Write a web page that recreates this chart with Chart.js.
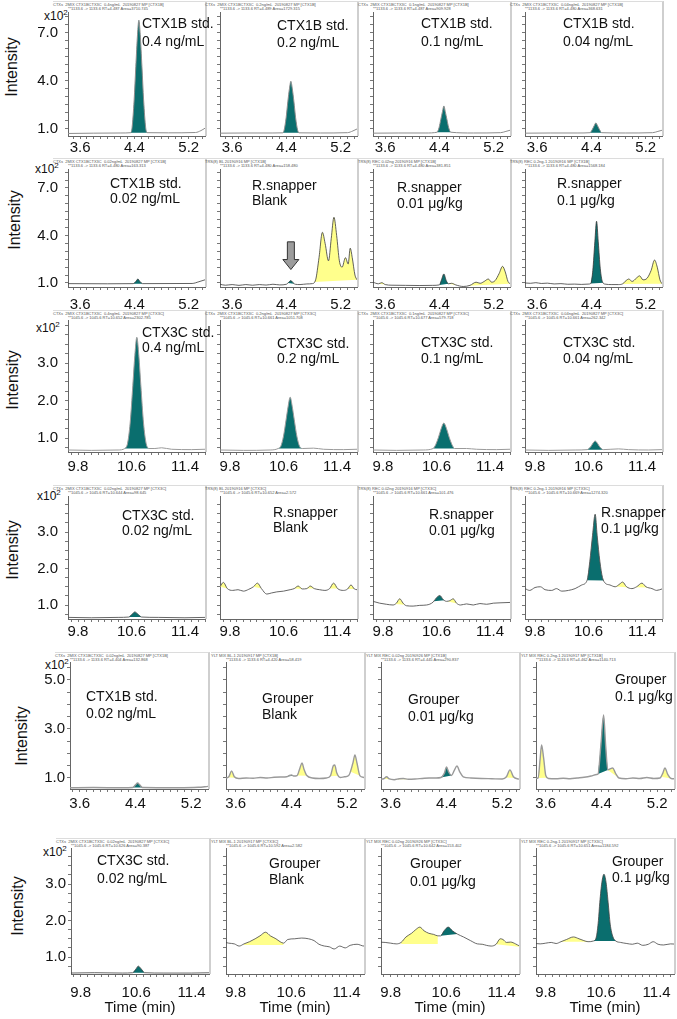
<!DOCTYPE html>
<html>
<head>
<meta charset="utf-8">
<script src="https://cdn.jsdelivr.net/npm/chart.js@4.4.0/dist/chart.umd.min.js"></script>
<style>
  body { margin: 0; background: #fff; }
  #fig { position: relative; width: 677px; height: 1019px; overflow: hidden;
         font-family: "Liberation Sans", Arial, sans-serif; color: #111; }
  .frame { position: absolute; border-top: 1px solid #dcdcdc; border-right: 2px solid #cfcfcf;
           box-sizing: border-box; z-index: 0; }
  .hdr { position: absolute; font-size: 4px; line-height: 5px; color: #555; white-space: pre; z-index: 2; }
  .lab { position: absolute; font-size: 14px; line-height: 16px; white-space: nowrap;
         transform: translateY(-50%); z-index: 4; }
  .ylab { position: absolute; font-size: 16px; white-space: nowrap;
          transform: translate(-50%, -50%) rotate(-90deg); z-index: 2; }
  .mult { position: absolute; font-size: 12px; transform: translateY(-50%); z-index: 2; }
  .mult sup { font-size: 8px; }
  canvas { position: absolute; z-index: 3; }
</style>
</head>
<body>
<div id="fig"></div>
<script>
// ---- tick labels ----
const ctx1bTicks = [3.6, 4.4, 5.2];
const ctx3cTicks = [9.8, 10.6, 11.4];
const yTicks147 = [1.0, 4.0, 7.0];
const yTicks123 = [1.0, 2.0, 3.0];
const yTicks135 = [1.0, 3.0, 5.0];

// ---- traces: [time (min), intensity (x10^2)] ----
// row 1: CTX1B standards
const r1p1 = [[3.42,0.72],[3.8,0.74],[4.2,0.75],[4.345,0.77],[4.365,1.1],[4.395,2.8],[4.42,4.9],[4.445,6.9],[4.465,7.8],[4.485,6.9],[4.51,4.9],[4.535,2.8],[4.565,1.1],[4.585,0.77],[4.9,0.76],[5.3,0.78],[5.38,0.9],[5.44,1.05]];
const r1p2 = [[3.42,0.74],[3.8,0.75],[4.2,0.75],[4.345,0.76],[4.365,0.92],[4.395,1.7],[4.42,2.7],[4.445,3.55],[4.465,3.98],[4.485,3.55],[4.51,2.7],[4.535,1.7],[4.565,0.92],[4.585,0.76],[4.9,0.75],[5.3,0.77],[5.38,0.88],[5.44,1.0]];
const r1p3 = [[3.42,0.74],[3.8,0.75],[4.2,0.75],[4.365,0.8],[4.395,1.1],[4.42,1.6],[4.445,2.1],[4.465,2.44],[4.485,2.1],[4.51,1.6],[4.535,1.1],[4.565,0.8],[4.9,0.75],[5.3,0.77],[5.38,0.85],[5.44,0.92]];
const r1p4 = [[3.42,0.74],[3.8,0.75],[4.2,0.75],[4.38,0.77],[4.41,0.95],[4.44,1.2],[4.465,1.38],[4.49,1.2],[4.52,0.95],[4.55,0.77],[4.9,0.75],[5.3,0.77],[5.38,0.85],[5.44,0.92]];
// row 2: CTX1B, red snapper
const r2p1 = [[3.42,0.96],[4.0,0.95],[4.38,0.96],[4.42,1.1],[4.45,1.25],[4.48,1.1],[4.52,0.96],[5.25,0.97],[5.35,1.08],[5.44,1.2]];
const r2p2 = [[3.42,0.92],[3.5,0.86],[3.6,0.9],[3.7,0.85],[3.8,0.9],[3.9,0.86],[4.0,0.9],[4.1,0.87],[4.2,0.92],[4.3,0.88],[4.4,0.92],[4.44,1.08],[4.465,1.15],[4.49,1.05],[4.53,0.92],[4.6,0.9],[4.7,0.94],[4.78,0.96],[4.83,1.2],[4.88,2.6],[4.93,4.2],[4.97,3.5],[5.02,2.4],[5.06,3.8],[5.1,5.15],[5.14,4.0],[5.18,2.4],[5.22,2.0],[5.27,2.6],[5.31,2.2],[5.34,3.2],[5.37,2.6],[5.41,1.5],[5.44,1.2]];
const r2p3 = [[3.42,1.05],[3.5,0.95],[3.55,1.02],[3.6,0.9],[3.7,0.86],[3.9,0.85],[4.1,0.84],[4.3,0.85],[4.40,0.88],[4.43,1.2],[4.465,1.57],[4.50,1.15],[4.53,0.95],[4.58,0.98],[4.64,0.88],[4.75,0.78],[4.85,0.85],[4.94,1.05],[5.0,0.98],[5.06,1.1],[5.12,1.25],[5.17,1.05],[5.22,1.15],[5.28,1.6],[5.33,2.05],[5.37,1.7],[5.41,1.1],[5.44,0.95]];
const r2p4 = [[3.42,1.0],[3.5,0.98],[3.58,1.02],[3.66,0.97],[3.75,0.99],[3.85,0.94],[3.95,0.96],[4.05,0.92],[4.15,0.93],[4.25,0.91],[4.35,0.93],[4.39,0.97],[4.42,1.8],[4.45,3.6],[4.475,4.9],[4.50,3.6],[4.53,1.9],[4.56,1.1],[4.60,0.93],[4.7,0.9],[4.8,0.9],[4.86,0.95],[4.91,1.15],[4.95,1.25],[5.0,1.1],[5.06,1.3],[5.11,1.45],[5.16,1.2],[5.22,1.3],[5.28,1.8],[5.33,2.45],[5.37,2.0],[5.41,1.2],[5.44,0.95]];
// row 3: CTX3C standards
const r3p1 = [[9.65,0.68],[10.0,0.67],[10.40,0.68],[10.50,0.72],[10.54,0.85],[10.58,1.4],[10.62,2.4],[10.65,3.2],[10.68,3.69],[10.71,3.2],[10.74,2.4],[10.78,1.4],[10.82,0.85],[10.86,0.72],[10.95,0.72],[11.05,0.74],[11.2,0.7],[11.5,0.69],[11.70,0.7]];
const r3p2 = [[9.65,0.68],[10.0,0.67],[10.40,0.68],[10.52,0.72],[10.56,0.78],[10.60,1.05],[10.64,1.5],[10.67,1.85],[10.70,2.09],[10.73,1.85],[10.76,1.5],[10.80,1.05],[10.84,0.78],[10.88,0.72],[11.05,0.73],[11.2,0.7],[11.5,0.69],[11.70,0.7]];
const r3p3 = [[9.65,0.68],[10.0,0.67],[10.40,0.68],[10.55,0.72],[10.59,0.83],[10.63,1.02],[10.67,1.25],[10.71,1.40],[10.75,1.25],[10.79,1.02],[10.83,0.83],[10.87,0.72],[11.05,0.72],[11.2,0.7],[11.5,0.69],[11.70,0.7]];
const r3p4 = [[9.65,0.68],[10.0,0.67],[10.40,0.68],[10.58,0.69],[10.63,0.76],[10.67,0.87],[10.70,0.92],[10.73,0.87],[10.77,0.76],[10.82,0.69],[11.05,0.71],[11.2,0.69],[11.5,0.68],[11.70,0.69]];
// row 4: CTX3C, red snapper
const r4p1 = [[9.65,0.66],[10.0,0.65],[10.4,0.66],[10.56,0.67],[10.61,0.75],[10.65,0.81],[10.69,0.76],[10.75,0.67],[11.0,0.66],[11.4,0.65],[11.70,0.66]];
const r4p2 = [[9.65,1.5],[9.70,1.62],[9.76,1.45],[9.84,1.4],[9.92,1.42],[10.0,1.38],[10.08,1.43],[10.15,1.5],[10.21,1.6],[10.27,1.45],[10.35,1.3],[10.42,1.33],[10.5,1.36],[10.6,1.38],[10.7,1.42],[10.76,1.45],[10.82,1.52],[10.88,1.44],[10.95,1.45],[11.0,1.52],[11.06,1.45],[11.14,1.42],[11.22,1.4],[11.29,1.45],[11.35,1.6],[11.41,1.45],[11.5,1.4],[11.56,1.44],[11.61,1.55],[11.66,1.44],[11.70,1.42]];
const r4p3 = [[9.65,1.1],[9.75,1.05],[9.85,1.02],[9.95,1.0],[10.0,1.05],[10.05,1.17],[10.10,1.05],[10.15,0.98],[10.25,0.97],[10.35,0.99],[10.45,1.0],[10.55,1.08],[10.60,1.2],[10.65,1.26],[10.70,1.15],[10.75,1.1],[10.80,1.12],[10.85,1.17],[10.90,1.05],[10.96,1.0],[11.05,1.03],[11.15,1.0],[11.25,1.04],[11.35,1.02],[11.45,1.05],[11.55,1.06],[11.70,1.07]];
const r4p4 = [[9.65,1.45],[9.72,1.4],[9.8,1.48],[9.88,1.5],[9.95,1.42],[10.05,1.4],[10.12,1.45],[10.2,1.38],[10.3,1.4],[10.4,1.45],[10.5,1.55],[10.58,1.68],[10.62,2.2],[10.66,2.9],[10.70,3.49],[10.73,2.9],[10.77,2.2],[10.81,1.75],[10.85,1.6],[10.92,1.55],[11.0,1.5],[11.07,1.58],[11.11,1.63],[11.17,1.5],[11.25,1.45],[11.32,1.5],[11.40,1.6],[11.46,1.5],[11.55,1.45],[11.62,1.4],[11.70,1.44]];
// row 5: CTX1B, grouper
const r5p1 = [[3.44,0.6],[3.8,0.61],[4.2,0.6],[4.36,0.61],[4.40,0.72],[4.43,0.8],[4.46,0.72],[4.50,0.61],[5.0,0.6],[5.3,0.62],[5.44,0.66]];
const r5p2 = [[3.44,0.98],[3.50,1.05],[3.54,1.29],[3.58,1.05],[3.64,0.98],[3.75,1.0],[3.85,0.99],[3.95,1.02],[4.05,1.0],[4.15,1.03],[4.25,1.04],[4.33,1.05],[4.37,1.1],[4.40,1.12],[4.43,1.08],[4.48,1.1],[4.52,1.4],[4.55,1.61],[4.58,1.35],[4.62,1.1],[4.7,1.0],[4.8,0.98],[4.9,1.0],[4.96,1.1],[5.00,1.5],[5.02,1.53],[5.05,1.2],[5.1,1.02],[5.16,1.05],[5.22,1.1],[5.28,1.6],[5.31,1.94],[5.34,1.6],[5.38,1.1],[5.44,1.02]];
const r5p3 = [[3.44,0.95],[3.5,0.97],[3.54,1.05],[3.58,0.96],[3.65,0.93],[3.72,0.97],[3.78,0.98],[3.85,0.95],[3.95,0.96],[4.05,0.98],[4.15,1.0],[4.25,1.0],[4.32,1.02],[4.37,1.2],[4.40,1.45],[4.43,1.25],[4.47,1.1],[4.51,1.3],[4.55,1.49],[4.59,1.25],[4.64,1.05],[4.75,1.0],[4.9,0.98],[5.05,0.97],[5.2,0.96],[5.26,1.05],[5.31,1.33],[5.36,1.05],[5.44,0.95]];
const r5p4 = [[3.44,0.98],[3.49,1.0],[3.52,1.8],[3.54,2.35],[3.57,1.8],[3.60,1.1],[3.64,0.98],[3.75,0.97],[3.85,0.99],[3.95,0.97],[4.05,1.0],[4.15,1.03],[4.25,1.08],[4.33,1.14],[4.35,1.16],[4.39,2.3],[4.43,3.57],[4.46,2.3],[4.49,1.33],[4.53,1.38],[4.56,1.41],[4.60,1.2],[4.65,1.0],[4.75,0.97],[4.85,1.0],[4.95,0.98],[5.05,1.02],[5.15,0.98],[5.24,1.0],[5.28,1.2],[5.31,1.41],[5.35,1.15],[5.40,0.98],[5.44,0.97]];
// row 6: CTX3C, grouper
const r6p1 = [[9.63,0.56],[10.0,0.57],[10.4,0.56],[10.55,0.57],[10.6,0.68],[10.63,0.75],[10.67,0.68],[10.72,0.57],[11.0,0.56],[11.4,0.56],[11.71,0.57]];
const r6p2 = [[9.63,1.41],[9.7,1.38],[9.78,1.36],[9.85,1.3],[9.92,1.36],[10.0,1.42],[10.08,1.5],[10.15,1.58],[10.23,1.68],[10.3,1.58],[10.38,1.5],[10.44,1.42],[10.49,1.38],[10.55,1.48],[10.65,1.5],[10.75,1.52],[10.85,1.5],[10.93,1.45],[11.0,1.35],[11.08,1.3],[11.15,1.28],[11.22,1.22],[11.3,1.3],[11.38,1.25],[11.45,1.32],[11.55,1.35],[11.65,1.3],[11.71,1.33]];
const r6p3 = [[9.63,1.41],[9.72,1.4],[9.8,1.38],[9.88,1.36],[9.95,1.4],[10.02,1.55],[10.10,1.65],[10.16,1.75],[10.22,1.82],[10.28,1.72],[10.35,1.65],[10.42,1.62],[10.48,1.58],[10.52,1.58],[10.57,1.72],[10.63,1.82],[10.69,1.72],[10.76,1.63],[10.85,1.55],[10.95,1.45],[11.05,1.36],[11.12,1.35],[11.18,1.32],[11.25,1.3],[11.32,1.35],[11.38,1.5],[11.42,1.48],[11.47,1.4],[11.53,1.41],[11.6,1.36],[11.66,1.3],[11.71,1.27]];
const r6p4 = [[9.63,1.38],[9.72,1.36],[9.8,1.38],[9.88,1.4],[9.95,1.37],[10.02,1.42],[10.1,1.48],[10.2,1.55],[10.28,1.5],[10.35,1.45],[10.41,1.42],[10.49,1.44],[10.53,1.55],[10.56,2.0],[10.58,2.5],[10.61,3.05],[10.64,3.27],[10.67,3.05],[10.70,2.5],[10.73,1.9],[10.77,1.55],[10.81,1.44],[10.88,1.4],[10.97,1.37],[11.05,1.35],[11.12,1.38],[11.2,1.32],[11.28,1.35],[11.35,1.42],[11.42,1.35],[11.5,1.33],[11.6,1.36],[11.71,1.35]];

// ---- integrated peaks: [start, end, kind (T = target, O = other), optional flat base] ----
const r1Peaks = [[[4.345,4.585,'T']], [[4.345,4.585,'T']], [[4.365,4.565,'T']], [[4.38,4.55,'T']]];
const r2Peaks = [[[4.38,4.52,'T']], [[4.42,4.52,'T'],[4.80,5.44,'O']], [[3.5,3.6,'O'],[4.40,4.53,'T'],[4.53,4.64,'O'],[4.82,5.44,'O']], [[4.39,4.58,'T'],[4.85,5.44,'O']]];
const r3Peaks = [[[10.50,10.86,'T']], [[10.52,10.88,'T']], [[10.55,10.87,'T']], [[10.58,10.82,'T']]];
const r4Peaks = [[[10.56,10.75,'T']], [[9.65,9.76,'O'],[10.15,10.27,'O'],[10.76,10.88,'O'],[10.95,11.06,'O'],[11.29,11.41,'O'],[11.56,11.66,'O']], [[9.98,10.13,'O'],[10.56,10.72,'T'],[10.76,10.92,'O']], [[10.58,10.83,'T'],[10.98,11.2,'O'],[11.3,11.5,'O']]];
const r5Peaks = [[[4.36,4.50,'T']], [[3.48,3.62,'O'],[4.35,4.45,'T'],[4.48,4.63,'O'],[4.94,5.08,'O'],[5.24,5.40,'O']], [[3.50,3.60,'O'],[3.68,3.85,'O'],[4.32,4.47,'T'],[5.24,5.40,'O']], [[3.49,3.63,'O'],[4.35,4.49,'T'],[4.49,4.65,'O'],[5.25,5.40,'O']]];
const r6Peaks = [[[10.55,10.72,'T']], [[9.92,10.49,'O',1.33]], [[9.95,10.48,'O',1.36],[10.52,10.76,'T'],[11.05,11.15,'O'],[11.32,11.71,'O']], [[10.02,10.41,'O'],[10.49,10.81,'T']]];

// arrow in the red snapper blank panel: [time, tail intensity, tip intensity]
const blankArrow = [4.465, 3.6, 1.85];

// ---- texts ----
const r1Names = [['CTX1B std.','0.4 ng/mL'],['CTX1B std.','0.2 ng/mL'],['CTX1B std.','0.1 ng/mL'],['CTX1B std.','0.04 ng/mL']];
const r2Names = [['CTX1B std.','0.02 ng/mL'],['R.snapper','Blank'],['R.snapper','0.01 μg/kg'],['R.snapper','0.1 μg/kg']];
const r3Names = [['CTX3C std.','0.4 ng/mL'],['CTX3C std.','0.2 ng/mL'],['CTX3C std.','0.1 ng/mL'],['CTX3C std.','0.04 ng/mL']];
const r4Names = [['CTX3C std.','0.02 ng/mL'],['R.snapper','Blank'],['R.snapper','0.01 μg/kg'],['R.snapper','0.1 μg/kg']];
const r5Names = [['CTX1B std.','0.02 ng/mL'],['Grouper','Blank'],['Grouper','0.01 μg/kg'],['Grouper','0.1 μg/kg']];
const r6Names = [['CTX3C std.','0.02 ng/mL'],['Grouper','Blank'],['Grouper','0.01 μg/kg'],['Grouper','0.1 μg/kg']];

const r1Hdr = [['CTXs  2MIX CTX1BCTX3C  0.4ng/mL  20190827 MP [CTX1B]','**1133.6 -> 1133.6 RT=4.487 Area=3710.745'],['CTXs  2MIX CTX1BCTX3C  0.2ng/mL  20190827 MP [CTX1B]','**1133.6 -> 1133.6 RT=4.489 Area=1729.315'],['CTXs  2MIX CTX1BCTX3C  0.1ng/mL  20190827 MP [CTX1B]','**1133.6 -> 1133.6 RT=4.487 Area=909.928'],['CTXs  2MIX CTX1BCTX3C  0.04ng/mL  20190827 MP [CTX1B]','**1133.6 -> 1133.6 RT=4.480 Area=368.631']];
const r2Hdr = [['CTXs  2MIX CTX1BCTX3C  0.02ng/mL  20190827 MP [CTX1B]','**1133.6 -> 1133.6 RT=4.480 Area=163.313'],['TRS(8) BL 20190916 MP [CTX1B]','**1133.6 -> 1133.6 RT=4.480 Area=158.480'],['TRS(8) REC 0.02ng 20190916 MP [CTX1B]','**1133.6 -> 1133.6 RT=4.480 Area=381.851'],['TRS(8) REC 0.2ng-1 20190916 MP [CTX1B]','**1133.6 -> 1133.6 RT=4.480 Area=1568.184']];
const r3Hdr = [['CTXs  2MIX CTX1BCTX3C  0.4ng/mL  20190827 MP [CTX3C]','**1045.6 -> 1045.6 RT=10.652 Area=2302.785'],['CTXs  2MIX CTX1BCTX3C  0.2ng/mL  20190827 MP [CTX3C]','**1045.6 -> 1045.6 RT=10.661 Area=1051.708'],['CTXs  2MIX CTX1BCTX3C  0.1ng/mL  20190827 MP [CTX3C]','**1045.6 -> 1045.6 RT=10.677 Area=579.718'],['CTXs  2MIX CTX1BCTX3C  0.04ng/mL  20190827 MP [CTX3C]','**1045.6 -> 1045.6 RT=10.661 Area=262.342']];
const r4Hdr = [['CTXs  2MIX CTX1BCTX3C  0.02ng/mL  20190827 MP [CTX3C]','**1045.6 -> 1045.6 RT=10.644 Area=98.645'],['TRS(8) BL 20190916 MP [CTX3C]','**1045.6 -> 1045.6 RT=10.652 Area=2.572'],['TRS(8) REC 0.02ng 20190916 MP [CTX3C]','**1045.6 -> 1045.6 RT=10.661 Area=101.476'],['TRS(8) REC 0.2ng-1 20190916 MP [CTX3C]','**1045.6 -> 1045.6 RT=10.669 Area=1274.320']];
const r5Hdr = [['CTXs  2MIX CTX1BCTX3C  0.02ng/mL  20190827 MP [CTX1B]','**1133.6 -> 1133.6 RT=4.404 Area=132.868'],['YLT MIX BL-1 20190917 MP [CTX1B]','**1133.6 -> 1133.6 RT=4.420 Area=58.419'],['YLT MIX REC 0.02ng 20190926 MP [CTX1B]','**1133.6 -> 1133.6 RT=4.445 Area=290.837'],['YLT MIX REC 0.2ng-1 20190917 MP [CTX1B]','**1133.6 -> 1133.6 RT=4.462 Area=1140.713']];
const r6Hdr = [['CTXs  2MIX CTX1BCTX3C  0.02ng/mL  20190827 MP [CTX3C]','**1045.6 -> 1045.6 RT=10.626 Area=90.387'],['YLT MIX BL-1 20190917 MP [CTX3C]','**1045.6 -> 1045.6 RT=10.592 Area=2.582'],['YLT MIX REC 0.02ng 20190926 MP [CTX3C]','**1045.6 -> 1045.6 RT=10.642 Area=153.402'],['YLT MIX REC 0.2ng-1 20190917 MP [CTX3C]','**1045.6 -> 1045.6 RT=10.651 Area=1184.592']];

// ---- layout (page pixels) ----
const TEAL = '#0a6e6e';
const YELLOW = '#ffff8c';
const FONT = 'Liberation Sans';

const rows = [
  { traces: [r1p1,r1p2,r1p3,r1p4], peaks: r1Peaks, names: r1Names, hdr: r1Hdr, xTicks: ctx1bTicks, yTicks: yTicks147,
    xr: [3.42, 5.44], yr: [0.5625, 8.31], yStep: 0.5, plotTop: 12, axisY: 136, hdrY: 4, lefts: [68,220,373,525], w: 137,
    xPad: 0, yPad: 7, line: '#8c8c8c', lw: 1, ylab: [12, 67], mult: [44, 15],
    labs: [[142,23,41],[277,25,42],[421,23,41],[563,23,41]] },
  { traces: [r2p1,r2p2,r2p3,r2p4], peaks: r2Peaks, names: r2Names, hdr: r2Hdr, xTicks: ctx1bTicks, yTicks: yTicks147,
    xr: [3.42, 5.44], yr: [0.747, 8.2], yStep: 0.5, plotTop: 169, axisY: 287, hdrY: 161, lefts: [68,220,373,525], w: 137,
    xPad: 6, yPad: 7, line: '#3a3a3a', lw: 0.8, ylab: [15, 220], mult: [35, 168],
    labs: [[110,183,198],[252,185,200],[397,187,203],[557,183,200]], arrow: 1 },
  { traces: [r3p1,r3p2,r3p3,r3p4], peaks: r3Peaks, names: r3Names, hdr: r3Hdr, xTicks: ctx3cTicks, yTicks: yTicks123,
    xr: [9.65, 11.70], yr: [0.627, 4.15], yStep: 0.25, plotTop: 320, axisY: 452, hdrY: 313, lefts: [68,220,373,525], w: 137,
    xPad: 3, yPad: 7, line: '#9a9a9a', lw: 1, ylab: [13, 380], mult: [36, 327],
    labs: [[142,332,347],[277,343,358],[421,342,358],[563,342,358]] },
  { traces: [r4p1,r4p2,r4p3,r4p4], peaks: r4Peaks, names: r4Names, hdr: r4Hdr, xTicks: ctx3cTicks, yTicks: yTicks123,
    xr: [9.65, 11.70], yr: [0.616, 3.99], yStep: 0.25, plotTop: 496, axisY: 619, hdrY: 488, lefts: [68,220,373,525], w: 137,
    xPad: 1, yPad: 7, line: '#555', lw: 0.9, ylab: [13, 550], mult: [37, 495],
    labs: [[122,515,530],[273,512,527],[429,514,530],[601,512,528]] },
  { traces: [r5p1,r5p2,r5p3,r5p4], peaks: r5Peaks, names: r5Names, hdr: r5Hdr, xTicks: ctx1bTicks, yTicks: yTicks135,
    xr: [3.46, 5.44], yr: [0.551, 5.73], yStep: 0.5, plotTop: 662, axisY: 789, hdrY: 655, lefts: [70,226,381,536], w: 138,
    xPad: 3, yPad: 2, line: '#9a9a9a', lw: 1.4, ylab: [22, 736], mult: [45, 664],
    labs: [[86,696,713],[262,698,714],[408,699,716],[615,679,696]] },
  { traces: [r6p1,r6p2,r6p3,r6p4], peaks: r6Peaks, names: r6Names, hdr: r6Hdr, xTicks: ctx3cTicks, yTicks: yTicks123,
    xr: [9.66, 11.65], yr: [0.534, 3.99], yStep: 0.25, plotTop: 848, axisY: 974, hdrY: 841, lefts: [71,226,381,536], w: 138,
    xPad: 7, yPad: 2, line: '#444', lw: 0.8, ylab: [18, 906], mult: [43, 851],
    labs: [[97,860,878],[269,863,879],[410,863,881],[612,861,877]], title: 'Time (min)' }
];

const fig = document.getElementById('fig');

function addEl(cls, css, text, html) {
  const el = document.createElement('div');
  el.className = cls;
  Object.assign(el.style, css);
  if (html) el.innerHTML = text; else el.textContent = text;
  fig.appendChild(el);
  return el;
}

function interp(trace, t) {
  for (let i = 1; i < trace.length; i++) {
    const [x0, y0] = trace[i - 1], [x1, y1] = trace[i];
    if (t >= x0 && t <= x1) return y0 + (y1 - y0) * (t - x0) / (x1 - x0);
  }
  return trace[trace.length - 1][1];
}

function near(list, v) {
  return list.some(t => Math.abs(t - v) < 1e-6);
}

// minor tick values on a regular step inside [lo, hi]
function stepTicks(lo, hi, step) {
  const out = [];
  for (let k = Math.ceil(lo / step - 1e-9); k * step <= hi + 1e-9; k++) {
    out.push({ value: Math.round(k * step * 1000) / 1000 });
  }
  return out;
}

function buildDatasets(trace, peaks, row) {
  const pts = trace.map(([x, y]) => ({ x, y }));
  const ds = [{ data: pts, borderColor: row.line, borderWidth: row.lw, pointRadius: 0, fill: false,
                cubicInterpolationMode: 'monotone' }];
  peaks.forEach(([a, b, kind, base]) => {
    const ya = interp(trace, a), yb = interp(trace, b);
    const seg = [{ x: a, y: ya }]
      .concat(trace.filter(p => p[0] > a && p[0] < b).map(([x, y]) => ({ x, y })))
      .concat([{ x: b, y: yb }]);
    const chord = base === undefined ? [{ x: a, y: ya }, { x: b, y: yb }] : [{ x: a, y: base }, { x: b, y: base }];
    ds.push({ data: seg, borderWidth: 0, borderColor: 'rgba(0,0,0,0)', pointRadius: 0,
              backgroundColor: kind === 'T' ? TEAL : YELLOW, fill: '+1', cubicInterpolationMode: 'monotone' });
    ds.push({ data: chord, borderWidth: 0, borderColor: 'rgba(0,0,0,0)', pointRadius: 0, fill: false });
  });
  return ds;
}

// block arrow pointing down at the blank's peak, placed through the scales
const arrowPlugin = {
  id: 'blankArrow',
  afterDatasetsDraw(chart) {
    const { ctx, scales: { x, y } } = chart;
    const cx = x.getPixelForValue(blankArrow[0]);
    const top = y.getPixelForValue(blankArrow[1]);
    const tip = y.getPixelForValue(blankArrow[2]);
    const neck = tip - 10;
    ctx.save();
    ctx.beginPath();
    ctx.moveTo(cx - 3.5, top);
    ctx.lineTo(cx + 3.5, top);
    ctx.lineTo(cx + 3.5, neck);
    ctx.lineTo(cx + 8, neck);
    ctx.lineTo(cx, tip);
    ctx.lineTo(cx - 8, neck);
    ctx.lineTo(cx - 3.5, neck);
    ctx.closePath();
    ctx.fillStyle = '#9c9c9c';
    ctx.fill();
    ctx.lineWidth = 1;
    ctx.strokeStyle = '#333';
    ctx.stroke();
    ctx.restore();
  }
};

rows.forEach((row, ri) => {
  addEl('ylab', { left: row.ylab[0] + 'px', top: row.ylab[1] + 'px' }, 'Intensity');
  addEl('mult', { left: row.mult[0] + 'px', top: row.mult[1] + 'px' }, 'x10<sup>2</sup>', true);

  row.lefts.forEach((left, ci) => {
    const plotH = row.axisY - row.plotTop;
    // panel frame and header lines
    addEl('frame', { left: (left - 15) + 'px', top: (row.hdrY - 3) + 'px',
                     width: (row.w + 17) + 'px', height: (row.axisY - row.hdrY + 3) + 'px' }, '');
    addEl('hdr', { left: (left - 15) + 'px', top: (row.hdrY - 2.5) + 'px' }, row.hdr[ci][0]);
    addEl('hdr', { left: left + 'px', top: (row.hdrY + 2) + 'px' }, row.hdr[ci][1]);
    // sample name
    const lp = row.labs[ci];
    addEl('lab', { left: lp[0] + 'px', top: lp[1] + 'px' }, row.names[ci][0]);
    addEl('lab', { left: lp[0] + 'px', top: lp[2] + 'px' }, row.names[ci][1]);

    // chart canvas: y-axis box is 46px wide left of the plot, x-axis box below it
    const xH = row.title ? 1019 - row.axisY : 30;
    const cv = document.createElement('canvas');
    const cw = 50 + row.w + 4, ch = plotH + 2 + xH;
    cv.width = cw; cv.height = ch;
    Object.assign(cv.style, { left: (left - 50) + 'px', top: (row.plotTop - 2) + 'px', width: cw + 'px', height: ch + 'px' });
    fig.appendChild(cv);

    new Chart(cv, {
      type: 'line',
      data: { datasets: buildDatasets(row.traces[ci], row.peaks[ci], row) },
      plugins: row.arrow === ci ? [arrowPlugin] : [],
      options: {
        responsive: false,
        animation: false,
        events: [],
        layout: { padding: { left: 4, top: 2, right: 4, bottom: 0 } },
        plugins: { legend: { display: false }, tooltip: { enabled: false } },
        scales: {
          x: {
            type: 'linear', min: row.xr[0], max: row.xr[1],
            afterBuildTicks: s => { s.ticks = stepTicks(row.xr[0], row.xr[1], 0.1); },
            afterFit: s => { s.height = xH; s.paddingLeft = 0; s.paddingRight = 0; },
            ticks: {
              autoSkip: false, maxRotation: 0, padding: row.xPad,
              color: '#111', font: { family: FONT, size: 15 },
              callback: v => near(row.xTicks, v) ? v.toFixed(1) : ''
            },
            grid: { drawOnChartArea: false, tickLength: 3, color: '#777' },
            border: { color: '#666', width: 1 },
            title: { display: !!row.title, text: row.title || '', color: '#111',
                     font: { family: FONT, size: 15 }, padding: { top: 0, bottom: 2 } }
          },
          y: {
            type: 'linear', min: row.yr[0], max: row.yr[1],
            afterBuildTicks: s => { s.ticks = stepTicks(row.yr[0], row.yr[1], row.yStep); },
            afterFit: s => { s.width = 46; s.paddingTop = 0; s.paddingBottom = 0; },
            ticks: {
              autoSkip: false, padding: row.yPad,
              display: ci === 0, color: '#111', font: { family: FONT, size: 15 },
              callback: v => near(row.yTicks, v) ? v.toFixed(1) : ''
            },
            grid: { drawOnChartArea: false, tickLength: 3, color: '#777' },
            border: { color: '#666', width: 1 }
          }
        }
      }
    });
  });
});
</script>
</body>
</html>
